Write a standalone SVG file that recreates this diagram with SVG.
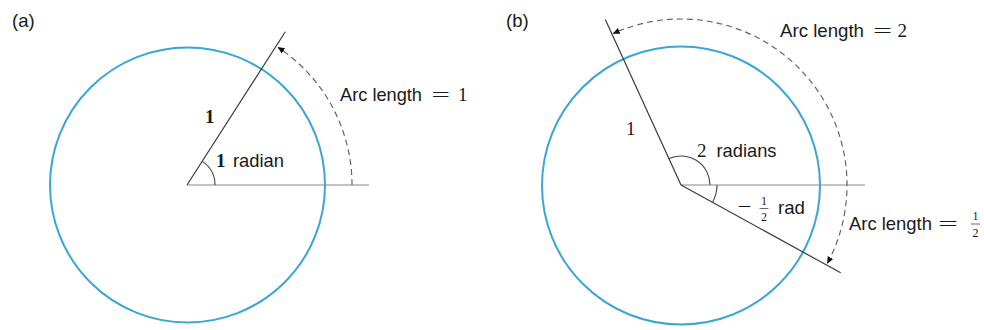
<svg xmlns="http://www.w3.org/2000/svg" width="984" height="330" viewBox="0 0 984 330">
  <defs>
    <marker id="arrow" viewBox="0 0 10 10" refX="9" refY="5" markerWidth="7" markerHeight="7" markerUnits="userSpaceOnUse" orient="auto-start-reverse">
      <path d="M0,0.5 L10,5 L0,9.5 z" fill="#111"/>
    </marker>
  </defs>
  <style>
    .circ { fill: none; stroke: #3aa6d6; stroke-width: 2; }
    .ray { fill: none; stroke: #3a3a3a; stroke-width: 1.2; }
    .axis { fill: none; stroke: #8a8a8a; stroke-width: 1.2; }
    .ang { fill: none; stroke: #444; stroke-width: 1.1; }
    .dash { fill: none; stroke: #666; stroke-width: 1.2; stroke-dasharray: 6 4; }
    .sans { font-family: "Liberation Sans", Arial, sans-serif; font-size: 18.5px; fill: #1a1a1a; }
    .serif { font-family: "Liberation Serif", "Times New Roman", serif; font-size: 19px; fill: #1a1a1a; }
    .frac { font-family: "Liberation Serif", "Times New Roman", serif; font-size: 12px; fill: #1a1a1a; text-anchor: middle; }
  </style>
  <rect width="984" height="330" fill="#ffffff"/>

  <g id="panel-a">
    <text class="sans" x="12" y="27">(a)</text>
    <circle id="circle-a" class="circ" cx="187.5" cy="185" r="137.5"/>
    <line class="axis" x1="187" y1="185" x2="369" y2="185"/>
    <line class="ray" x1="187" y1="185" x2="285.3" y2="31.8"/>
    <path class="ang" d="M215,185 A28,28 0 0 0 202.1,161.4"/>
    <g id="connectors-a">
      <path class="dash" d="M352,185 A165,165 0 0 0 278.2,47.5" marker-end="url(#arrow)"/>
    </g>
    <text class="serif" x="205" y="123" font-weight="bold">1</text>
    <text class="serif" x="216" y="166.5" font-weight="bold">1</text>
    <text class="sans" x="233" y="166.5" textLength="51" lengthAdjust="spacingAndGlyphs">radian</text>
    <text class="sans" x="340" y="101" font-size="19.5" textLength="82" lengthAdjust="spacingAndGlyphs">Arc length</text>
    <text class="serif" x="431.5" y="101" textLength="18.5" lengthAdjust="spacingAndGlyphs">=</text>
    <text class="serif" x="458" y="101">1</text>
  </g>

  <g id="panel-b">
    <text class="sans" x="506" y="27">(b)</text>
    <circle id="circle-b" class="circ" cx="681" cy="185.5" r="139"/>
    <line class="axis" x1="681" y1="185" x2="865" y2="185"/>
    <line class="ray" x1="681" y1="185" x2="605.3" y2="19.5"/>
    <line class="ray" x1="681" y1="185" x2="840.7" y2="272.8"/>
    <path class="ang" d="M710,185 A29,29 0 0 0 668.9,158.6"/>
    <path class="ang" d="M717,185 A36,36 0 0 1 712.6,202.3"/>
    <g id="connectors-b">
      <path class="dash" d="M827.5,263.1 A166,166 0 0 0 613.4,33.4" marker-start="url(#arrow)" marker-end="url(#arrow)"/>
    </g>
    <text class="serif" x="626" y="135">1</text>
    <text class="serif" x="697" y="157">2</text>
    <text class="sans" x="716.5" y="157" textLength="60" lengthAdjust="spacingAndGlyphs">radians</text>
    <text class="serif" x="737.5" y="213" textLength="14" lengthAdjust="spacingAndGlyphs">−</text>
    <text class="frac" x="764" y="205">1</text>
    <line x1="759.5" y1="208.5" x2="768.5" y2="208.5" stroke="#444" stroke-width="0.8"/>
    <text class="frac" x="764" y="220.5">2</text>
    <text class="sans" x="778" y="213.5" textLength="27" lengthAdjust="spacingAndGlyphs">rad</text>
    <text class="sans" x="780" y="36.5" font-size="19.5" textLength="84" lengthAdjust="spacingAndGlyphs">Arc length</text>
    <text class="serif" x="873" y="36.5" textLength="19" lengthAdjust="spacingAndGlyphs">=</text>
    <text class="serif" x="897.5" y="36.5">2</text>
    <text class="sans" x="849" y="230" font-size="19.5" textLength="83" lengthAdjust="spacingAndGlyphs">Arc length</text>
    <text class="serif" x="938" y="230" textLength="20" lengthAdjust="spacingAndGlyphs">=</text>
    <text class="frac" x="975.5" y="220">1</text>
    <line x1="971" y1="224" x2="980" y2="224" stroke="#444" stroke-width="0.8"/>
    <text class="frac" x="975.5" y="236.5">2</text>
  </g>
</svg>
